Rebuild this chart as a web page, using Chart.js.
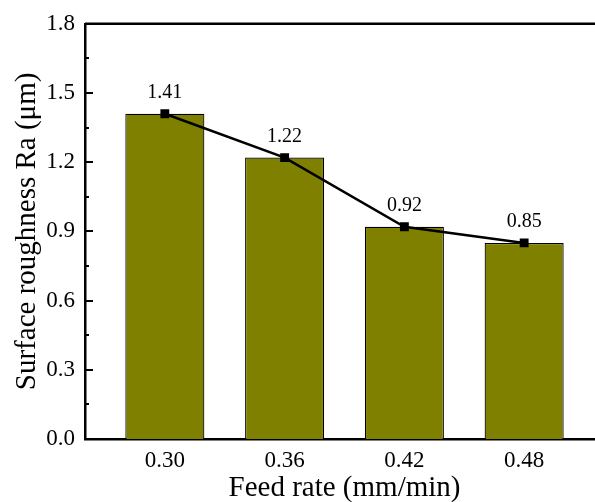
<!DOCTYPE html>
<html>
<head>
<meta charset="utf-8">
<script src="https://cdn.jsdelivr.net/npm/chart.js@4/dist/chart.umd.min.js"></script>
<style>
  html, body { margin: 0; padding: 0; background: #fff; }
  #wrap { width: 595px; height: 502px; overflow: hidden; }
  canvas { display: block; }
</style>
</head>
<body>
<div id="wrap"><canvas id="c" width="612" height="502"></canvas></div>
<script>
// Feed rate (mm/min) and measured surface roughness Ra (µm)
const feedRates = [0.30, 0.36, 0.42, 0.48];
const roughness = [1.41, 1.22, 0.92, 0.85];
const yTicks = [0, 0.3, 0.6, 0.9, 1.2, 1.5, 1.8];
const yMinorTicks = [0.15, 0.45, 0.75, 1.05, 1.35, 1.65];

const serif = "'Liberation Serif', 'Times New Roman', serif";
const points = feedRates.map((x, i) => ({ x: x, y: roughness[i] }));

// Closed frame on top plus inward tick marks on the value axis
const framePlugin = {
  id: 'frame',
  afterDatasetsDraw(chart) {
    const { ctx, chartArea: a, scales } = chart;
    const y = scales.y;
    ctx.save();
    ctx.strokeStyle = '#000';
    ctx.lineWidth = 2.5;
    ctx.beginPath();
    ctx.moveTo(a.left, a.top);
    ctx.lineTo(a.right, a.top);
    ctx.lineTo(a.right, a.bottom);
    ctx.stroke();
    ctx.lineWidth = 2;
    yTicks.forEach(v => {
      const py = Math.round(y.getPixelForValue(v));
      ctx.beginPath();
      ctx.moveTo(a.left, py);
      ctx.lineTo(a.left + 8, py);
      ctx.stroke();
    });
    yMinorTicks.forEach(v => {
      const py = Math.round(y.getPixelForValue(v));
      ctx.beginPath();
      ctx.moveTo(a.left, py);
      ctx.lineTo(a.left + 4, py);
      ctx.stroke();
    });
    ctx.restore();
  }
};

// Value labels above each marker
const valueLabels = {
  id: 'valueLabels',
  afterDatasetsDraw(chart) {
    const { ctx, scales } = chart;
    ctx.save();
    ctx.fillStyle = '#000';
    ctx.font = '20px ' + serif;
    ctx.textAlign = 'center';
    ctx.textBaseline = 'middle';
    feedRates.forEach((x, i) => {
      const px = scales.x.getPixelForValue(x);
      const py = scales.y.getPixelForValue(roughness[i]);
      ctx.fillText(roughness[i].toFixed(2), px, py - 21);
    });
    ctx.restore();
  }
};

new Chart(document.getElementById('c'), {
  data: {
    datasets: [
      {
        type: 'line',
        data: points,
        borderColor: '#000',
        borderWidth: 2.5,
        pointStyle: 'rect',
        pointRadius: 4.5,
        pointBackgroundColor: '#000',
        pointBorderColor: '#000',
        tension: 0,
        order: 0
      },
      {
        type: 'bar',
        data: points,
        backgroundColor: '#808000',
        borderColor: '#000',
        borderWidth: 1.2,
        categoryPercentage: 1,
        barPercentage: 0.66,
        order: 1
      }
    ]
  },
  options: {
    responsive: false,
    devicePixelRatio: 1,
    animation: false,
    layout: { padding: { top: 21, right: 8, left: 0, bottom: 0 } },
    plugins: { legend: { display: false }, tooltip: { enabled: false } },
    scales: {
      x: {
        type: 'linear',
        offset: false,
        min: 0.26,
        max: 0.52,
        afterBuildTicks(scale) { scale.ticks = feedRates.map(v => ({ value: v })); },
        afterFit(scale) { scale.height = 63; },
        grid: { display: false, drawTicks: false },
        border: { display: true, color: '#000', width: 2.5 },
        ticks: {
          color: '#000',
          font: { family: serif, size: 23 },
          padding: 8,
          maxRotation: 0,
          autoSkip: false,
          callback: v => Number(v).toFixed(2)
        },
        title: {
          display: true,
          text: 'Feed rate (mm/min)',
          color: '#000',
          font: { family: serif, size: 29 },
          padding: { top: 0, bottom: -4 }
        }
      },
      y: {
        min: 0,
        max: 1.8,
        afterBuildTicks(scale) { scale.ticks = yTicks.map(v => ({ value: v })); },
        afterFit(scale) { scale.width = 85; },
        grid: { display: false, drawTicks: false },
        border: { display: true, color: '#000', width: 2.5 },
        ticks: {
          color: '#000',
          font: { family: serif, size: 23 },
          padding: 10,
          callback: v => Number(v).toFixed(1)
        },
        title: {
          display: true,
          text: 'Surface roughness Ra (μm)',
          color: '#000',
          font: { family: serif, size: 29 },
          padding: { top: 10, bottom: 0 }
        }
      }
    }
  },
  plugins: [framePlugin, valueLabels]
});
</script>
</body>
</html>
